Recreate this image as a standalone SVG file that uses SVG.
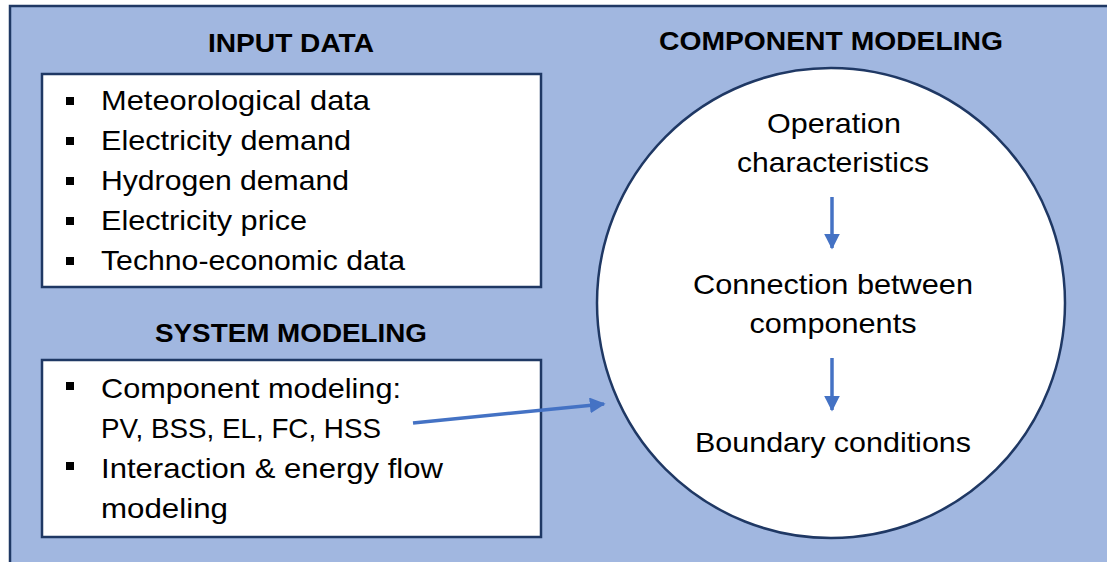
<svg xmlns="http://www.w3.org/2000/svg" width="1107" height="562" viewBox="0 0 1107 562">
<defs>
<style>
.t{font-family:"Liberation Sans",Arial,sans-serif;font-size:28px;fill:#000}
.h{font-family:"Liberation Sans",Arial,sans-serif;font-size:25px;font-weight:bold;fill:#000}
.box{fill:#fff;stroke:#1F3864;stroke-width:2.5}
.bul{fill:#000}
.ar{stroke:#4472C4;stroke-width:3.5;fill:none}
</style>
<marker id="ah" viewBox="0 0 10 10" refX="9" refY="5" markerWidth="4.5" markerHeight="4.5" orient="auto" markerUnits="strokeWidth">
<path d="M0,0 L10,5 L0,10 z" fill="#4472C4"/>
</marker>
</defs>
<rect x="0" y="0" width="1107" height="562" fill="#fff"/>
<rect id="background" x="10" y="6" width="1110" height="570" fill="#A1B7E0" stroke="#1F3864" stroke-width="2.5"/>
<g id="input-data">
<text class="h" x="291" y="52" text-anchor="middle" textLength="166" lengthAdjust="spacingAndGlyphs">INPUT DATA</text>
<rect class="box" x="42" y="74" width="499" height="213"/>
<rect class="bul" x="66" y="97" width="8" height="8"/>
<text class="t" x="101" y="110" textLength="269" lengthAdjust="spacingAndGlyphs">Meteorological data</text>
<rect class="bul" x="66" y="137" width="8" height="8"/>
<text class="t" x="101" y="150" textLength="250" lengthAdjust="spacingAndGlyphs">Electricity demand</text>
<rect class="bul" x="66" y="177" width="8" height="8"/>
<text class="t" x="101" y="190" textLength="248" lengthAdjust="spacingAndGlyphs">Hydrogen demand</text>
<rect class="bul" x="66" y="217" width="8" height="8"/>
<text class="t" x="101" y="230" textLength="206" lengthAdjust="spacingAndGlyphs">Electricity price</text>
<rect class="bul" x="66" y="257" width="8" height="8"/>
<text class="t" x="101" y="270" textLength="304" lengthAdjust="spacingAndGlyphs">Techno-economic data</text>
</g>
<g id="system-modeling">
<text class="h" x="291" y="342" text-anchor="middle" textLength="272" lengthAdjust="spacingAndGlyphs">SYSTEM MODELING</text>
<rect class="box" x="42" y="360" width="499" height="177"/>
<rect class="bul" x="66" y="382" width="8" height="8"/>
<text class="t" x="101" y="398" textLength="300" lengthAdjust="spacingAndGlyphs">Component modeling:</text>
<text class="t" x="101" y="438" textLength="280" lengthAdjust="spacingAndGlyphs">PV, BSS, EL, FC, HSS</text>
<rect class="bul" x="66" y="462" width="8" height="8"/>
<text class="t" x="101" y="478" textLength="342" lengthAdjust="spacingAndGlyphs">Interaction &amp; energy flow</text>
<text class="t" x="101" y="518" textLength="127" lengthAdjust="spacingAndGlyphs">modeling</text>
</g>
<g id="component-modeling">
<text class="h" x="831" y="50" text-anchor="middle" textLength="344" lengthAdjust="spacingAndGlyphs">COMPONENT MODELING</text>
<ellipse class="box" cx="831" cy="303" rx="234" ry="235"/>
<text class="t" x="834" y="133" text-anchor="middle" textLength="134" lengthAdjust="spacingAndGlyphs">Operation</text>
<text class="t" x="833" y="172" text-anchor="middle" textLength="192" lengthAdjust="spacingAndGlyphs">characteristics</text>
<text class="t" x="833" y="294" text-anchor="middle" textLength="280" lengthAdjust="spacingAndGlyphs">Connection between</text>
<text class="t" x="833" y="333" text-anchor="middle" textLength="167" lengthAdjust="spacingAndGlyphs">components</text>
<text class="t" x="833" y="452" text-anchor="middle" textLength="276" lengthAdjust="spacingAndGlyphs">Boundary conditions</text>
</g>
<g id="connectors">
<line class="ar" x1="832" y1="197" x2="832" y2="248" marker-end="url(#ah)"/>
<line class="ar" x1="832" y1="358" x2="832" y2="410" marker-end="url(#ah)"/>
<line class="ar" x1="413" y1="423" x2="604" y2="404" marker-end="url(#ah)"/>
</g>
</svg>
